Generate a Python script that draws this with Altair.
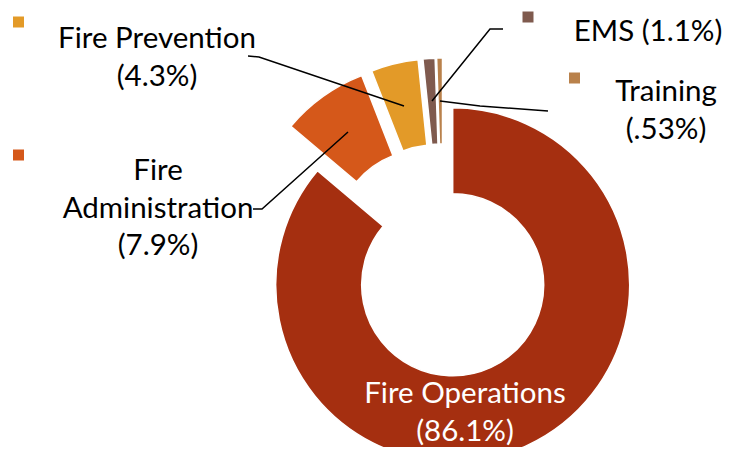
import altair as alt
import pandas as pd

# ---- data ----
categories = ["Fire Operations", "Fire Administration", "Fire Prevention", "EMS", "Training"]
shares = [86.1, 7.9, 4.3, 1.1, 0.53]
labels = ["Fire Operations\n(86.1%)", "Fire\nAdministration\n(7.9%)",
          "Fire Prevention\n(4.3%)", "EMS (1.1%)", "Training\n(.53%)"]
colors = ["#A52F10", "#D5581A", "#E39A28", "#7F5A4E", "#B9814B"]

# ---- layout (plot-area pixels) ----
W, H = 718, 439
CX, CY = 435, 256          # pie centre before explosion
explode = [23, 29, 29, 29, 29]
R_OUT, R_IN = 177, 91
FONT = "Lato"
FS = 29.5
LH = 37.5

label_x = [457, 150, 149, 640, 658]
label_y = [395, 172, 40, 33, 93]
label_color = ["white", "black", "black", "black", "black"]

marker_x = [None, 10.5, 10.5, 520, 566.5]
marker_y = [None, 147, 14, 9, 70]

leader_pts = {
    "Fire Administration": [(245, 201), (254, 201), (340, 124)],
    "Fire Prevention": [(240, 48), (251, 49), (396, 98)],
    "EMS": [(495, 21), (482, 21), (424, 93)],
    "Training": [(540, 103), (472, 98), (432, 93)],
}

df = pd.DataFrame({"category": categories, "share": shares,
                   "order": list(range(len(categories))), "ex": explode})

cscale = alt.Scale(domain=categories, range=colors)

arcs = (
    alt.Chart(df)
    .transform_window(cum="sum(share)", sort=[alt.SortField("order")], frame=[None, 0])
    .transform_joinaggregate(total="sum(share)")
    .transform_calculate(
        t1="2*PI*datum.cum/datum.total",
        t0="2*PI*(datum.cum-datum.share)/datum.total",
    )
    .transform_calculate(mid="(datum.t0+datum.t1)/2")
    .transform_calculate(
        cx=f"{CX}+datum.ex*sin(datum.mid)",
        cy=f"{CY}-datum.ex*cos(datum.mid)",
    )
    .mark_arc(outerRadius=R_OUT, innerRadius=R_IN, stroke="white", strokeWidth=1.5)
    .encode(
        x=alt.X("cx:Q", scale=None),
        y=alt.Y("cy:Q", scale=None),
        theta=alt.Theta("t0:Q", scale=None, stack=None),
        theta2=alt.Theta2("t1:Q"),
        color=alt.Color("category:N", scale=cscale, legend=None),
    )
)

rows = []
for seg, pts in leader_pts.items():
    for i, (px, py) in enumerate(pts):
        rows.append({"seg": seg, "i": i, "x": px, "y": py})
ldf = pd.DataFrame(rows)
lines = (
    alt.Chart(ldf)
    .mark_line(color="black", strokeWidth=1.5)
    .encode(
        x=alt.X("x:Q", scale=None),
        y=alt.Y("y:Q", scale=None),
        detail="seg:N",
        order="i:Q",
    )
)

mdf = pd.DataFrame({"category": categories, "x": marker_x, "y": marker_y}).dropna()
markers = (
    alt.Chart(mdf)
    .mark_square(size=121, opacity=1)
    .encode(
        x=alt.X("x:Q", scale=None),
        y=alt.Y("y:Q", scale=None),
        color=alt.Color("category:N", scale=cscale, legend=None),
    )
)

tdf = pd.DataFrame({"label": labels, "x": label_x, "y": label_y, "tc": label_color})
texts = (
    alt.Chart(tdf)
    .mark_text(font=FONT, fontSize=FS, align="center", baseline="alphabetic",
               lineBreak="\n", lineHeight=LH)
    .encode(
        x=alt.X("x:Q", scale=None),
        y=alt.Y("y:Q", scale=None),
        text="label:N",
        color=alt.Color("tc:N", scale=None),
    )
)

chart = (
    alt.layer(arcs, lines, markers, texts)
    .properties(width=W, height=H, padding=0, autosize="none")
    .configure_view(stroke=None)
)

chart.save("out.html", embed_options={"renderer": "svg", "actions": False})
